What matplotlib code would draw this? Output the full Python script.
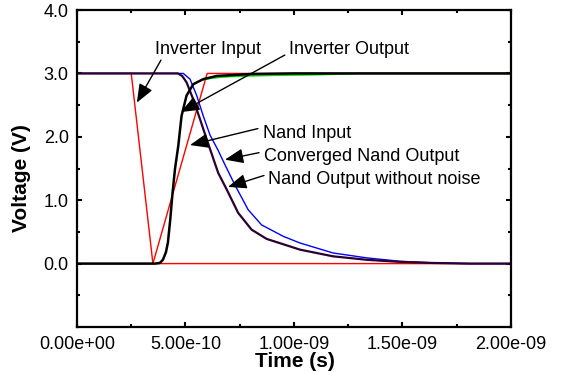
import numpy as np
import matplotlib
matplotlib.use("Agg")
import matplotlib.pyplot as plt
from matplotlib.ticker import FormatStrFormatter, MultipleLocator

# time values are in units of 1e-10 s, voltages in V
inv_in_t = [0.0, 2.5, 3.5, 20.0]
inv_in_v = [3.0, 3.0, 0.0, 0.0]

nand_in_t = [0.0, 3.5, 6.0, 20.0]
nand_in_v = [0.0, 0.0, 3.0, 3.0]

inv_out_t = [0.0, 3.59, 3.82, 3.96, 4.10, 4.19, 4.30, 4.40, 4.52, 4.67, 4.82,
             5.05, 5.36, 5.82, 6.44, 7.97, 10.0, 20.0]
inv_out_v = [0.0, 0.0, 0.01, 0.06, 0.18, 0.33, 0.70, 1.10, 1.50, 1.86, 2.33,
             2.65, 2.83, 2.91, 2.96, 2.99, 3.0, 3.0]

conv_inv_t = [5.82, 6.2, 6.6, 7.0, 8.0, 9.0, 10.0, 11.0, 12.2, 13.0, 20.0]
conv_inv_v = [2.90, 2.925, 2.94, 2.95, 2.962, 2.97, 2.975, 2.98, 2.99, 3.0, 3.0]

conv_nand_t = [0.0, 4.90, 5.21, 5.52, 5.82, 6.13, 6.50, 6.82, 7.28, 7.89, 8.51,
               9.51, 10.28, 11.80, 13.36, 14.88, 16.40, 18.11, 20.0]
conv_nand_v = [3.0, 3.0, 2.91, 2.65, 2.33, 2.03, 1.79, 1.56, 1.24, 0.85, 0.61,
               0.43, 0.325, 0.168, 0.09, 0.037, 0.012, 0.0, 0.0]

nand_out_t = [0.0, 4.65, 4.85, 5.05, 5.36, 5.67, 5.98, 6.51, 6.90, 7.43, 8.05,
              8.74, 10.28, 11.80, 13.36, 14.88, 16.40, 18.11, 20.0]
nand_out_v = [3.0, 3.0, 2.96, 2.86, 2.59, 2.28, 1.96, 1.43, 1.17, 0.80, 0.535,
              0.39, 0.22, 0.115, 0.06, 0.027, 0.01, 0.0, 0.0]

scale = 1e-10

plt.rcParams['font.family'] = ['Liberation Sans', 'DejaVu Sans']

fig = plt.figure(figsize=(5.62, 3.72), dpi=100)
ax = fig.add_axes([0.137, 0.121, 0.772, 0.852])

ax.plot(np.array(inv_in_t) * scale, inv_in_v, color='red', lw=1.0)
ax.plot(np.array(nand_in_t) * scale, nand_in_v, color='red', lw=1.0)
ax.plot(np.array(conv_inv_t) * scale, conv_inv_v, color='#00dd00', lw=1.2)
ax.plot(np.array(conv_nand_t) * scale, conv_nand_v, color='blue', lw=1.0)
ax.plot(np.array(nand_out_t) * scale, nand_out_v, color='#2a0030', lw=1.6)
ax.plot(np.array(inv_out_t) * scale, inv_out_v, color='black', lw=1.8)

ax.set_xlim(0, 2e-9)
ax.set_ylim(-1.0, 4.0)
ax.set_xticks([0, 5e-10, 1e-9, 1.5e-9, 2e-9])
ax.set_yticks([0, 1, 2, 3, 4])
ax.xaxis.set_minor_locator(MultipleLocator(2.5e-10))
ax.yaxis.set_minor_locator(MultipleLocator(0.5))
ax.xaxis.set_major_formatter(FormatStrFormatter('%.2e'))
ax.yaxis.set_major_formatter(FormatStrFormatter('%.1f'))
ax.tick_params(which='both', direction='in', top=True, right=True,
               width=1.5, labelsize=13, colors='black')
ax.tick_params(which='major', length=3.5)
ax.tick_params(which='minor', length=2.2)
ax.tick_params(axis='y', pad=6)
ax.tick_params(axis='x', pad=6.5)
for s in ax.spines.values():
    s.set_linewidth(1.6)

ax.set_xlabel("Time (s)", fontsize=15, fontweight='bold')
ax.xaxis.set_label_coords(0.502, -0.08)
ax.set_ylabel("Voltage (V)", fontsize=15, fontweight='bold')
ax.yaxis.set_label_coords(-0.105, 0.47)

arrow = dict(arrowstyle='-|>,head_length=0.75,head_width=0.3',
             color='black', lw=1.0, shrinkA=0, shrinkB=0, mutation_scale=15)

# (label, text pos, tail, tip) in (1e-10 s, V)
notes = [
    ("Inverter Input", (3.59, 3.37), (3.87, 3.21), (2.76, 2.54)),
    ("Inverter Output", (9.77, 3.37), (9.58, 3.29), (4.79, 2.39)),
    ("Nand Input", (8.57, 2.06), (8.34, 2.13), (5.21, 1.87)),
    ("Converged Nand Output", (8.62, 1.69), (8.39, 1.75), (6.82, 1.64)),
    ("Nand Output without noise", (8.80, 1.32), (8.62, 1.39), (6.96, 1.21)),
]
for label, pos, tail, tip in notes:
    ax.text(pos[0] * scale, pos[1], label, fontsize=13, ha='left', va='center')
    ax.annotate('', xy=(tip[0] * scale, tip[1]),
                xytext=(tail[0] * scale, tail[1]), arrowprops=arrow)

fig.savefig("out.png", dpi=100)
